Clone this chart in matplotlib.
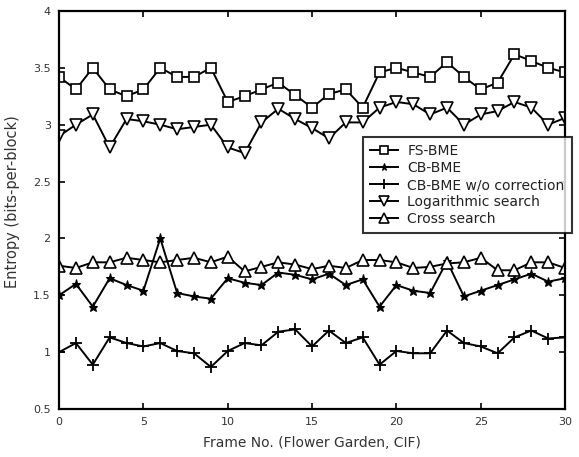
import numpy as np
import matplotlib
matplotlib.use('Agg')
import matplotlib.pyplot as plt

plt.rcParams['font.family'] = ['DejaVu Sans']

frames = np.arange(31)

fs_bme = [3.42, 3.31, 3.5, 3.31, 3.25, 3.31, 3.5, 3.42, 3.42, 3.5, 3.2,
          3.25, 3.31, 3.37, 3.26, 3.15, 3.27, 3.31, 3.15, 3.46, 3.5,
          3.46, 3.42, 3.55, 3.42, 3.31, 3.37, 3.62, 3.56, 3.5, 3.46]
cb_bme = [1.5, 1.6, 1.4, 1.65, 1.59, 1.54, 2.0, 1.52, 1.49, 1.47, 1.65,
          1.61, 1.59, 1.7, 1.68, 1.64, 1.69, 1.59, 1.64, 1.4, 1.59,
          1.54, 1.52, 1.8, 1.49, 1.54, 1.59, 1.64, 1.69, 1.62, 1.65]
cb_bme_nocorr = [1.0, 1.08, 0.89, 1.13, 1.08, 1.05, 1.08, 1.01, 0.99, 0.87, 1.01,
                 1.08, 1.06, 1.18, 1.2, 1.05, 1.19, 1.08, 1.13, 0.89, 1.01,
                 0.99, 0.99, 1.19, 1.08, 1.05, 0.99, 1.13, 1.19, 1.12, 1.13]
log_search = [2.9, 3.0, 3.09, 2.8, 3.05, 3.03, 3.0, 2.96, 2.98, 3.0, 2.8,
              2.75, 3.02, 3.14, 3.05, 2.97, 2.88, 3.02, 3.02, 3.15, 3.2,
              3.18, 3.09, 3.15, 3.0, 3.09, 3.12, 3.2, 3.15, 3.0, 3.06]
cross_search = [1.76, 1.74, 1.79, 1.79, 1.83, 1.81, 1.79, 1.81, 1.83, 1.79, 1.84,
                1.71, 1.75, 1.79, 1.77, 1.73, 1.76, 1.74, 1.81, 1.81, 1.79,
                1.74, 1.75, 1.78, 1.79, 1.83, 1.72, 1.72, 1.79, 1.79, 1.74]

fig = plt.figure(figsize=(5.79, 4.57), dpi=100)
ax = fig.add_axes([0.102, 0.105, 0.874, 0.871])

common = dict(color='black', lw=1.4, mec='black')
ax.plot(frames, fs_bme, marker='s', ms=7, mfc='white', mew=1.2, label='FS-BME', **common)
ax.plot(frames, cb_bme, marker='*', ms=6.5, mfc='black', mew=0.8, label='CB-BME', **common)
ax.plot(frames, cb_bme_nocorr, marker='+', ms=9, mew=1.3, label='CB-BME w/o correction', **common)
ax.plot(frames, log_search, marker='v', ms=8, mfc='white', mew=1.2, label='Logarithmic search', **common)
ax.plot(frames, cross_search, marker='^', ms=8, mfc='white', mew=1.2, label='Cross search', **common)

ax.set_xlim(0, 30)
ax.set_ylim(0.5, 4)
ax.set_xticks([0, 5, 10, 15, 20, 25, 30])
ax.set_yticks([0.5, 1, 1.5, 2, 2.5, 3, 3.5, 4])
ax.set_yticklabels(['0.5', '1', '1.5', '2', '2.5', '3', '3.5', '4'])
ax.tick_params(direction='in', length=4, width=1.2, labelsize=8, colors='black',
               labelcolor='#333333', top=True, right=True, pad=6)
for s in ax.spines.values():
    s.set_linewidth(1.6)

ax.set_xlabel('Frame No. (Flower Garden, CIF)', fontsize=10, color='#333333', labelpad=6)
ax.set_ylabel('Entropy (bits-per-block)', fontsize=10.5, color='#333333', labelpad=5)
ax.yaxis.set_label_coords(-0.078, 0.52)

leg = ax.legend(loc='upper left', bbox_to_anchor=(363 / 579, 1 - 137 / 457),
                bbox_transform=fig.transFigure, fontsize=10, frameon=True, fancybox=False,
                edgecolor='black', handlelength=2.0, borderpad=0.5, labelspacing=0.22,
                handletextpad=0.7, borderaxespad=0, markerscale=0.85)
leg.get_frame().set_linewidth(1.5)
leg.set_zorder(5)
for t in leg.get_texts():
    t.set_color('#222222')

fig.savefig('out.png', dpi=100)
